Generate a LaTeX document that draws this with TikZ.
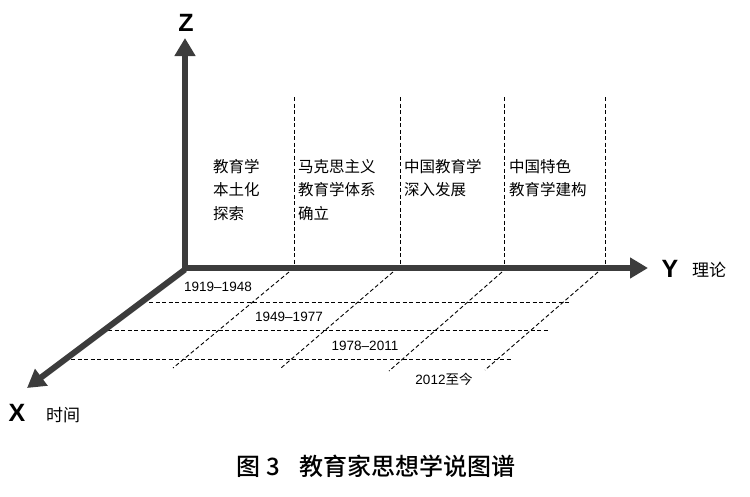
\documentclass[tikz,border=0pt]{standalone}
\usepackage{fontspec}
\setmainfont{Liberation Sans}
\newfontfamily\cjk{Noto Sans CJK SC}
\newfontfamily\cjkb{Noto Sans CJK SC Medium}
\usetikzlibrary{arrows.meta}
\definecolor{axc}{HTML}{3C3C3C}
\tikzset{
  axis/.style={line width=6pt,draw=axc,-{Triangle[length=18pt,width=20pt]}},
  grid/.style={line width=0.9pt,draw=black,dash pattern=on 4pt off 2.5pt},
  coltext/.style={anchor=north west,align=left,font=\cjk\fontsize{15.5}{23.5}\selectfont,inner sep=0pt},
  yeartext/.style={font=\fontsize{13.5}{15}\selectfont,inner sep=1pt,fill=white},
  axlabel/.style={font=\bfseries\fontsize{25}{27}\selectfont,inner sep=0pt},
  axname/.style={font=\cjk\fontsize{17}{19}\selectfont,inner sep=0pt}
}
\begin{document}
\begin{tikzpicture}[x=1pt,y=-1pt]
\useasboundingbox (0,0) rectangle (750,496);
\coordinate (O) at (185,268);
\coordinate (Zt) at (185,38);
\coordinate (Yt) at (648,268);
\coordinate (Xt) at (27,388);
\foreach \i/\x in {1/294,2/400,3/504,4/605}{
  \coordinate (vt\i) at (\x,97);
  \coordinate (vb\i) at (\x,268);
  \draw[grid] (vt\i) -- (vb\i);
}
\foreach \i/\a/\b/\c in {1/289/173/368,2/393/281/368,3/502/389/371,4/598/485/370}{
  \coordinate (st\i) at (\a,272);
  \coordinate (sb\i) at (\b,\c);
  \draw[grid] (st\i) -- (sb\i);
}
\foreach \i/\a/\b/\y in {1/149/571/302,2/108/549/330,3/71/512/359}{
  \coordinate (hl\i) at (\a,\y);
  \coordinate (hr\i) at (\b,\y);
  \draw[grid] (hl\i) -- (hr\i);
}
\node[yeartext] (y1) at (218,287) {1919–1948};
\node[yeartext] (y2) at (289,317) {1949–1977};
\node[yeartext] (y3) at (365,346) {1978–2011};
\node[yeartext] (y4) at (444,379) {2012{\cjk 至今}};
\draw[axis] (O) -- (Zt);
\draw[axis] ([xshift=-3pt]O) -- (Yt);
\draw[axis] ([yshift=-1.5pt]O) -- (Xt);
\node[axlabel] (zl) at (186,23) {Z};
\node[axlabel] (yl) at (670,269) {Y};
\node[axname] (yn) at (709,270) {理论};
\node[axlabel] (xl) at (17,413) {X};
\node[axname] (xn) at (63,415) {时间};
\node[coltext] (c1) at (213,159) {教育学\\本土化\\探索};
\node[coltext] (c2) at (298,159) {马克思主义\\教育学体系\\确立};
\node[coltext] (c3) at (404,159) {中国教育学\\深入发展};
\node[coltext] (c4) at (509,159) {中国特色\\教育学建构};
\node[font=\cjkb\fontsize{24}{26}\selectfont,inner sep=0pt] (cap) at (376,466) {图 3\hspace{0.8em}教育家思想学说图谱};
\end{tikzpicture}
\end{document}
